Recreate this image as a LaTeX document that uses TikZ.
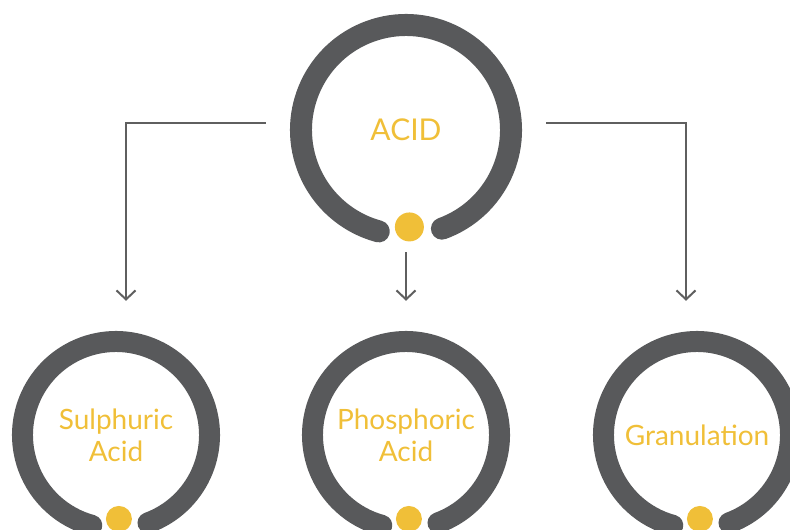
\documentclass[tikz,border=0pt]{standalone}
\usepackage{fontspec}
\setmainfont{Lato}
\usetikzlibrary{arrows.meta}
\definecolor{ringgray}{HTML}{58595B}
\definecolor{acidyellow}{HTML}{F0BF38}
\definecolor{arrowgray}{HTML}{5F5F5F}

\tikzset{
	stage/.style={circle,minimum size=#1,inner sep=0pt,align=center,text=acidyellow,font=\fontsize{28}{32}\selectfont},
	ring/.style={draw=ringgray,line width=#1,line cap=round},
	link/.style={draw=arrowgray,line width=2pt,-{Straight Barb[length=9pt,width=19pt]},shorten >=30pt},
}
% open ring round a stage: node, radius, width, dot distance, dot radius
\newcommand{\drawring}[5]{
	\draw[ring=#3] ([shift={(-70:#2)}]#1.center) arc[start angle=-70,end angle=255,radius=#2];
	\fill[acidyellow] ([shift={(-88:#4)}]#1.center) circle[radius=#5];
}

\begin{document}
\begin{tikzpicture}[x=1pt,y=1pt]
	\clip (0,0) rectangle (790,530);
	\node[stage=232pt,font=\fontsize{30}{32}\selectfont] (acid) at (406,400) {ACID};
	\node[stage=208pt] (sulph) at (116,95) {Sulphuric\\Acid};
	\node[stage=208pt] (phos) at (406,95) {Phosphoric\\Acid};
	\node[stage=208pt] (gran) at (697,95) {Granulation};
	\drawring{acid}{105pt}{22pt}{97pt}{14.5pt}
	\drawring{sulph}{93.5pt}{21pt}{84pt}{13pt}
	\drawring{phos}{93.5pt}{21pt}{84pt}{13pt}
	\drawring{gran}{93.5pt}{21pt}{84pt}{13pt}
	% connectors
	\draw[link] ([shift={(-24pt,7pt)}]acid.west) -| ([xshift=10pt]sulph.north);
	\draw[link,shorten <=6pt] (acid.south) -- (phos.north);
	\draw[link] ([shift={(24pt,7pt)}]acid.east) -| ([xshift=-11pt]gran.north);
\end{tikzpicture}
\end{document}
